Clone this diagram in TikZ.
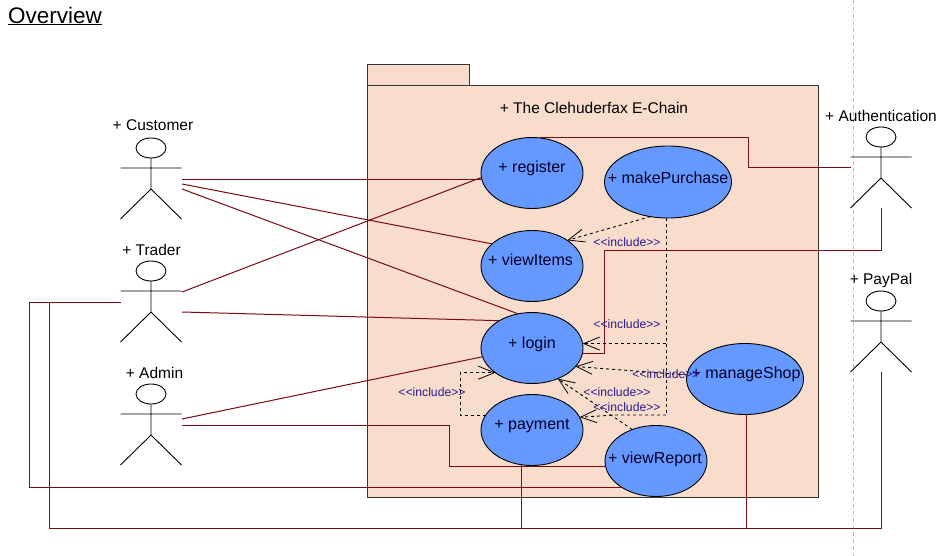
\documentclass[tikz,border=0pt]{standalone}
\usepackage{fontspec}
\setmainfont{Liberation Sans}
\usetikzlibrary{shapes.geometric,arrows.meta}
\definecolor{assoc}{HTML}{7A0A14}
\definecolor{pkgfill}{HTML}{F8DDCD}
\definecolor{ucfill}{HTML}{6699FF}
\definecolor{inctext}{HTML}{2A1A8C}
\newcommand{\umlactor}[6]{% name, head x, head y, label, label x, label y
  \node[actorhead] (#1) at (#2,#3) {};
  \coordinate (#1-hip) at ([yshift=-31pt]#1.south);
  \coordinate (#1-armL) at ([xshift=-30.5pt,yshift=-10pt]#1.south);
  \coordinate (#1-armR) at ([xshift=30.5pt,yshift=-10pt]#1.south);
  \coordinate (#1-footL) at ([xshift=-30.5pt,yshift=-61pt]#1.south);
  \coordinate (#1-footR) at ([xshift=30.5pt,yshift=-61pt]#1.south);
  \draw[actorline] (#1.south) -- (#1-hip) (#1-armL) -- (#1-armR)
    (#1-footL) -- (#1-hip) -- (#1-footR);
  \node[actorname] at (#5,#6) {#4};
}
\newcommand{\uctext}[2]{\makebox[0pt]{\raisebox{#1}[0pt][0pt]{#2}}}
\tikzset{
  usecase/.style={ellipse,draw=black,line width=0.9pt,fill=ucfill,inner sep=0pt,outer sep=0pt,
    font=\fontsize{16}{18}\selectfont,text=black!85!blue},
  actorhead/.style={ellipse,draw=black,line width=0.9pt,minimum width=30pt,minimum height=20pt,inner sep=0pt,outer sep=0pt},
  actorline/.style={draw=black,line width=0.9pt},
  actorname/.style={font=\fontsize{15.5}{18}\selectfont,text=black,inner sep=0pt},
  assocline/.style={draw=assoc,line width=1pt},
  incline/.style={draw=black,line width=0.9pt,dash pattern=on 3pt off 3pt,-{Straight Barb[length=16pt,width=13pt,line width=0.8pt]}},
  incplain/.style={draw=black,line width=0.9pt,dash pattern=on 3pt off 3pt},
  inclabel/.style={font=\fontsize{12.2}{14}\selectfont,text=inctext,inner sep=0pt},
  pkg/.style={draw=black!80,line width=1pt,fill=pkgfill},
}
\begin{document}
\begin{tikzpicture}[x=1pt,y=-1pt]
\useasboundingbox[fill=white] (0,0) rectangle (947,556);
\draw[draw=black!25,line width=0.8pt,dash pattern=on 4pt off 3pt] (853,0) -- (853,556);
\node[anchor=west,inner sep=0pt,font=\fontsize{22.5}{26}\selectfont] (title) at (8,16) {\underline{Overview}};
% package
\draw[pkg] (367,65) rectangle (469,86);
\draw[pkg] (367,86) rectangle (818,497);
\node[font=\fontsize{15.5}{18}\selectfont,inner sep=0pt] (pkgname) at (594,108) {+ The Clehuderfax E-Chain};
% use cases
\node[usecase,minimum width=102pt,minimum height=71pt] (register) at (532,173) {\uctext{0pt}{+ register}};
\node[usecase,minimum width=127pt,minimum height=72pt] (purchase) at (668,182) {\uctext{-2pt}{+ makePurchase}};
\node[usecase,minimum width=102pt,minimum height=71pt] (items) at (532,266) {\uctext{1pt}{\hspace{-3pt}+ viewItems}};
\node[usecase,minimum width=102pt,minimum height=71pt] (login) at (532,348) {\uctext{0pt}{+ login}};
\node[usecase,minimum width=102pt,minimum height=71pt] (payment) at (532,430) {\uctext{1pt}{+ payment}};
\node[usecase,minimum width=102pt,minimum height=71pt] (report) at (656,461) {\uctext{-2pt}{\hspace{-2pt}+ viewReport}};
\node[usecase,minimum width=117pt,minimum height=71pt] (shop) at (745,379) {\uctext{1pt}{\hspace{2pt}+ manageShop}};
% actors
\umlactor{customer}{151}{148}{+ Customer}{153}{125.5}
\umlactor{trader}{151}{271}{+ Trader}{151.5}{249.5}
\umlactor{admin}{151}{394}{+ Admin}{154.5}{372.5}
\umlactor{auth}{881}{137}{+ Authentication}{881}{115.5}
\umlactor{paypal}{881}{301}{+ PayPal}{881}{280.5}
% free ends and bends
\coordinate (cA) at (182,179);
\coordinate (cB) at (182,184);
\coordinate (cC) at (182,189);
\coordinate (tA) at (182,292);
\coordinate (tB) at (182,312);
\coordinate (tL) at (121,302);
\coordinate (tBendA) at (29,302);
\coordinate (busL) at (49,302);
\coordinate (busLB) at (49,528);
\coordinate (busR) at (881,528);
\coordinate (aA) at (182,419);
\coordinate (aB) at (182,425);
\coordinate (aBendA) at (449,425);
\coordinate (authL) at (851,168);
\coordinate (authBendA) at (748,168);
\coordinate (authD) at (881,250);
\coordinate (authE) at (604,250);
% associations
\draw[assocline] (cA |- register.187) -- (register.187);
\draw[assocline] (cB) -- (items.151);
\draw[assocline] (cC) -- (login.112);
\draw[assocline] (tA) -- (register.185);
\draw[assocline] (tB) -- (login.140);
\draw[assocline] (tL) -- (tBendA) |- (report.219);
\draw[assocline] (tL) -- (busL) -- (busLB) -- (busR) -- (paypal-footL -| paypal.south);
\draw[assocline] (payment.253) -- (payment.253 |- busR);
\draw[assocline] (shop.272) -- (shop.272 |- busR);
\draw[assocline] (aA) -- (login.190);
\draw[assocline] (aB) -- (aBendA) |- (report.186);
\draw[assocline] (authL) -- (authBendA) |- (register.77);
\draw[assocline] (auth-footL -| auth.south) -- (authD) -- (authE) |- (login.354);
% includes
\coordinate (incA) at (666,343);
\coordinate (incB) at (666,415);
\coordinate (incC) at (615,415);
\coordinate (payA) at (460,415);
\coordinate (payB) at (460,374);
\draw[incline] (purchase.243) -- (items.36);
\draw[incplain] (purchase.268) -- (purchase.268 |- incB) -- (incB);
\draw[incline] (incA |- login.5) -- (login.5);
\draw[incline] (incB) -- (incC) -- (payment.15);
\draw[incline] (shop.176) -- (login.337);
\draw[incline] (report.127) -- (login.310);
\draw[incline] (payment.162) -- (payment.162 -| payA) -- (payB |- login.214) -- (login.214);
\node[inclabel] (lA) at (627,242) {<{}<include>{}>};
\node[inclabel] (lB) at (627,324.5) {<{}<include>{}>};
\node[inclabel] (lC) at (666,374.5) {<{}<include>{}>};
\node[inclabel] (lD) at (617,392) {<{}<include>{}>};
\node[inclabel] (lE) at (627,407) {<{}<include>{}>};
\node[inclabel] (lF) at (432,392) {<{}<include>{}>};
\end{tikzpicture}
\end{document}
